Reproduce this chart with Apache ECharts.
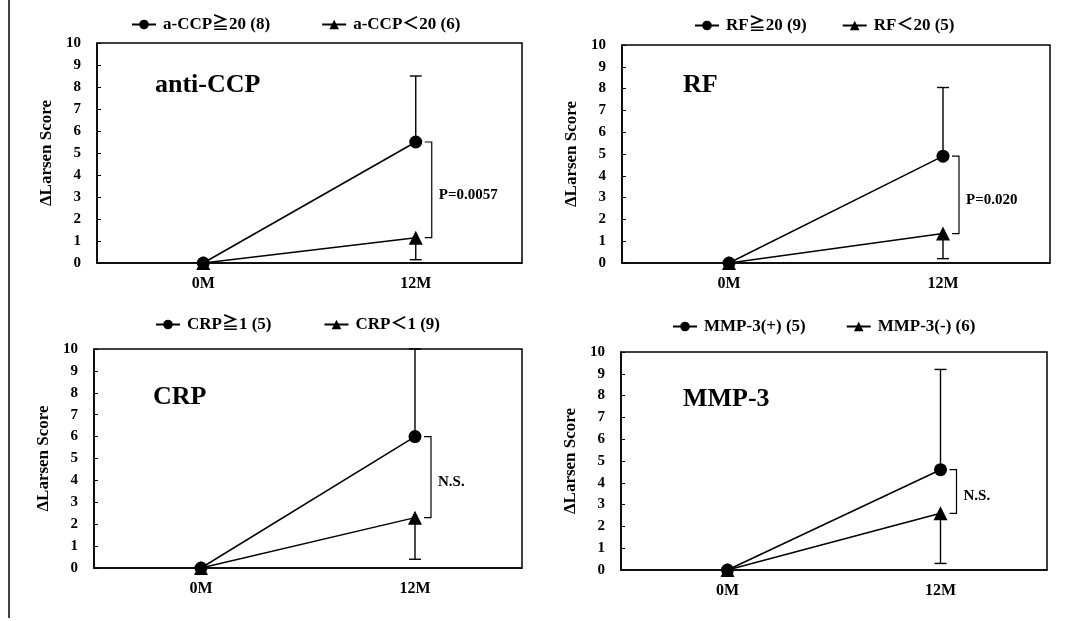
<!DOCTYPE html>
<html>
<head>
    <meta charset="UTF-8">
    <title>Larsen score</title>
    <script src="https://cdn.jsdelivr.net/npm/echarts@6/dist/echarts.min.js"></script>
    <style>
        html, body { margin: 0; padding: 0; background: #fff; }
        #container { width: 1069px; height: 621px; }
    </style>
</head>
<body>
<div id="container"></div>
<script>
    // 数据
    var categories = ['0M', '12M'];
    var panelNames = ['anti-CCP', 'RF', 'CRP', 'MMP-3'];
    var highNames = ['a-CCP≧20 (8)', 'RF≧20 (9)', 'CRP≧1 (5)', 'MMP-3(+) (5)'];
    var lowNames = ['a-CCP＜20 (6)', 'RF＜20 (5)', 'CRP＜1 (9)', 'MMP-3(-) (6)'];
    var highMeans = [[0, 5.5], [0, 4.9], [0, 6.0], [0, 4.6]];
    var highErrTop = [8.5, 8.05, 10, 9.2];
    var lowMeans = [[0, 1.15], [0, 1.35], [0, 2.3], [0, 2.6]];
    var lowErrBottom = [0.15, 0.2, 0.4, 0.3];
    var pLabels = ['P=0.0057', 'P=0.020', 'N.S.', 'N.S.'];
    var yTicks = [0, 10, 1];

    // 版面
    var grids = [
        {left: 97, right: 547, top: 43, bottom: 358},
        {left: 622, right: 19, top: 45, bottom: 358},
        {left: 94, right: 547, top: 349, bottom: 53},
        {left: 621, right: 22, top: 352, bottom: 51}
    ];
    var legendPos = [
        {left: 131, top: 16, gap: 51},
        {left: 694, top: 17, gap: 35},
        {left: 155, top: 316, gap: 52},
        {left: 672, top: 318, gap: 40}
    ];
    var titlePos = [
        {left: 155, top: 72},
        {left: 683, top: 72},
        {left: 153, top: 384},
        {left: 683, top: 386}
    ];

    var FONT = "'Liberation Serif', 'Noto Sans CJK JP', serif";

    var chart = echarts.init(document.getElementById('container'), null, {renderer: 'canvas'});

    var option = {
        backgroundColor: '#fff',
        animation: false,
        title: [], legend: [], grid: [], xAxis: [], yAxis: [], series: [],
        graphic: [{
            type: 'line', silent: true,
            shape: {x1: 9, y1: 0, x2: 9, y2: 618},
            style: {stroke: '#000', lineWidth: 1.5}
        }]
    };

    function errRender(params, api) {
        var p0 = api.coord([api.value(0), api.value(1)]);
        var p1 = api.coord([api.value(0), api.value(2)]);
        return {
            type: 'group',
            children: [
                {type: 'line', shape: {x1: p0[0], y1: p0[1], x2: p1[0], y2: p1[1]}, style: {stroke: '#000', lineWidth: 1.4}},
                {type: 'line', shape: {x1: p1[0] - 6, y1: p1[1], x2: p1[0] + 6, y2: p1[1]}, style: {stroke: '#000', lineWidth: 1.4}}
            ]
        };
    }

    function makeBracket(label) {
        return function (params, api) {
            var top = api.coord([api.value(0), api.value(1)]);
            var bot = api.coord([api.value(0), api.value(2)]);
            var x = top[0] + 16;
            return {
                type: 'group',
                children: [
                    {type: 'polyline', shape: {points: [[x - 7, top[1]], [x, top[1]], [x, bot[1]], [x - 7, bot[1]]]},
                        style: {stroke: '#000', lineWidth: 1.2, fill: null}},
                    {type: 'text', x: x + 7, y: (top[1] + bot[1]) / 2 + 5,
                        style: {text: label, fill: '#000', font: 'bold 15px ' + FONT, textVerticalAlign: 'middle', textAlign: 'left'}}
                ]
            };
        };
    }

    for (var i = 0; i < 4; i++) {
        option.grid.push({
            left: grids[i].left, right: grids[i].right, top: grids[i].top, bottom: grids[i].bottom,
            show: true, borderColor: '#000', borderWidth: 1.5, backgroundColor: 'transparent'
        });
        option.title.push({
            text: panelNames[i], left: titlePos[i].left, top: titlePos[i].top, padding: 0,
            textStyle: {fontFamily: FONT, fontWeight: 'bold', fontSize: 26, color: '#000'}
        });
        option.legend.push({
            data: [highNames[i], lowNames[i]],
            left: legendPos[i].left, top: legendPos[i].top, itemGap: legendPos[i].gap,
            itemWidth: 24, itemHeight: 12, padding: 0,
            textStyle: {fontFamily: FONT, fontWeight: 'bold', fontSize: 17, color: '#000', padding: [0, 0, 0, 2]}
        });
        option.xAxis.push({
            type: 'category', gridIndex: i, data: categories, boundaryGap: true,
            axisLine: {lineStyle: {color: '#000', width: 1.5}},
            axisTick: {inside: true, length: 4, lineStyle: {color: '#000'}},
            axisLabel: {color: '#000', fontFamily: FONT, fontWeight: 'bold', fontSize: 16, margin: 13}
        });
        option.yAxis.push({
            type: 'value', gridIndex: i, min: yTicks[0], max: yTicks[1], interval: yTicks[2],
            name: 'ΔLarsen Score', nameLocation: 'middle', nameRotate: 90, nameGap: 42,
            nameTextStyle: {color: '#000', fontFamily: FONT, fontWeight: 'bold', fontSize: 17},
            axisLine: {show: true, lineStyle: {color: '#000', width: 1.5}},
            axisTick: {show: true, inside: true, length: 4, lineStyle: {color: '#000'}},
            splitLine: {show: false},
            axisLabel: {color: '#000', fontFamily: FONT, fontWeight: 'bold', fontSize: 15, margin: 16}
        });

        option.series.push({
            type: 'custom', xAxisIndex: i, yAxisIndex: i, z: 1,
            data: [[1, highMeans[i][1], highErrTop[i]], [1, lowMeans[i][1], lowErrBottom[i]]],
            renderItem: errRender
        });
        option.series.push({
            type: 'custom', xAxisIndex: i, yAxisIndex: i, z: 1,
            data: [[1, highMeans[i][1], lowMeans[i][1]]],
            renderItem: makeBracket(pLabels[i])
        });
        option.series.push({
            name: highNames[i], type: 'line', xAxisIndex: i, yAxisIndex: i, z: 3,
            data: highMeans[i], symbol: 'circle', symbolSize: 13,
            lineStyle: {color: '#000', width: 1.5}, itemStyle: {color: '#000'}
        });
        option.series.push({
            name: lowNames[i], type: 'line', xAxisIndex: i, yAxisIndex: i, z: 3,
            data: lowMeans[i], symbol: 'triangle', symbolSize: 14,
            lineStyle: {color: '#000', width: 1.5}, itemStyle: {color: '#000'}
        });
    }

    chart.setOption(option);
    window.onresize = function () { chart.resize(); };
</script>
</body>
</html>
